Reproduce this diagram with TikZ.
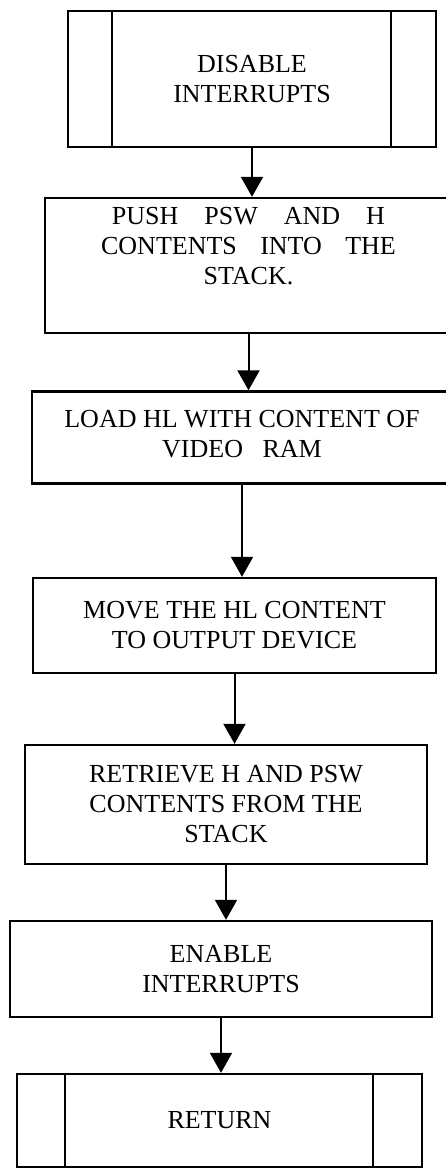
\documentclass[tikz,border=0pt]{standalone}
\usepackage{fontspec}
\setmainfont{Liberation Serif}
\usetikzlibrary{arrows.meta}

\tikzset{
  flowbox/.style={draw, rectangle, line width=1.2pt, align=center, inner sep=0pt,
    font=\fontsize{13}{15}\selectfont},
  flowarrow/.style={line width=1pt, -{Triangle[width=11pt,length=10pt]}}
}

\begin{document}
\begin{tikzpicture}[x=0.5pt,y=-0.5pt]
\useasboundingbox (0,0) rectangle (445,1171);

\node[flowbox, minimum width=184pt, minimum height=68pt] (disable) at (252,79)
  {DISABLE\\INTERRUPTS};
\draw[line width=1.2pt] ([xshift=22.5pt]disable.north west) -- ([xshift=22.5pt]disable.south west);
\draw[line width=1.2pt] ([xshift=-23pt]disable.north east) -- ([xshift=-23pt]disable.south east);

\node[flowbox, minimum width=203.5pt, minimum height=67.5pt, text depth=20pt] (push) at (248.5,265.5)
  {PUSH\hspace{1em}PSW\hspace{1em}AND\hspace{1em}H\\CONTENTS\hspace{.9em}INTO\hspace{.9em}THE\\STACK.};

\node[flowbox, minimum width=210pt, minimum height=46pt, text depth=4pt] (load) at (242,437.5)
  {LOAD HL WITH CONTENT OF\\VIDEO\hspace{.75em}RAM};

\node[flowbox, minimum width=201.5pt, minimum height=47.5pt] (move) at (234.5,625.5)
  {MOVE THE HL CONTENT\\TO OUTPUT DEVICE};

\node[flowbox, minimum width=201pt, minimum height=59.5pt] (retrieve) at (226,804.5)
  {RETRIEVE H AND PSW\\CONTENTS FROM THE\\STACK};

\node[flowbox, minimum width=211pt, minimum height=48pt] (enable) at (221,969)
  {ENABLE\\INTERRUPTS};

\node[flowbox, minimum width=202.5pt, minimum height=46.5pt] (return) at (219.5,1120.5)
  {RETURN};
\draw[line width=1.2pt] ([xshift=24.5pt]return.north west) -- ([xshift=24.5pt]return.south west);
\draw[line width=1.2pt] ([xshift=-25pt]return.north east) -- ([xshift=-25pt]return.south east);

% connectors
\draw[flowarrow] (disable.south) -- (disable.south |- push.north);
\draw[flowarrow] (push.south) -- (push.south |- load.north);
\draw[flowarrow] (load.south) -- (load.south |- move.north);
\draw[flowarrow] (move.south) -- (move.south |- retrieve.north);
\draw[flowarrow] (retrieve.south) -- (retrieve.south |- enable.north);
\draw[flowarrow] (enable.south) -- (enable.south |- return.north);
\end{tikzpicture}
\end{document}
